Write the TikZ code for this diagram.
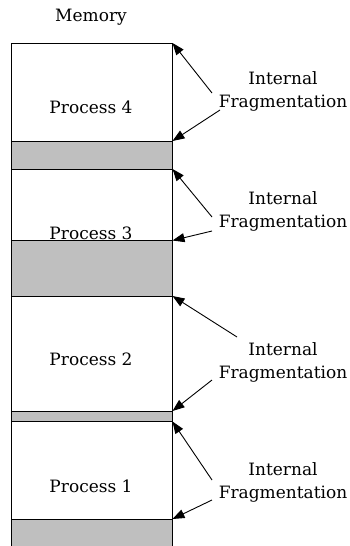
\documentclass[tikz,border=0pt]{standalone}
\usepackage{fontspec}
\setmainfont{DejaVu Serif}
\usetikzlibrary{arrows.meta}
\begin{document}
\begin{tikzpicture}[x=1pt,y=-1pt,
  seg/.style={draw=black,line width=1pt,minimum width=161.5pt,inner sep=0pt,outer sep=0pt,anchor=north west},
  proc/.style={seg,fill=white},
  frag/.style={seg,fill=black!25},
  lbl/.style={font=\fontsize{17}{20}\selectfont,inner sep=0pt,anchor=base},
  note/.style={font=\fontsize{17}{23}\selectfont,align=center,inner sep=0pt},
  pointer/.style={-{Triangle[length=12pt,width=9pt]},line width=0.9pt}]
\useasboundingbox (0,0) rectangle (349,546);
\clip (0,0) rectangle (349,546);
% memory blocks
\node[proc,minimum height=98pt] (p4) at (11,43) {};
\node[frag,minimum height=28pt] (g4) at (11,141) {};
\node[proc,minimum height=71.5pt] (p3) at (11,169) {};
\node[frag,minimum height=55.5pt] (g3) at (11,240.5) {};
\node[proc,minimum height=115pt] (p2) at (11,296) {};
\node[frag,minimum height=10.5pt] (g2) at (11,411) {};
\node[proc,minimum height=97.5pt] (p1) at (11,421.5) {};
\node[frag,minimum height=40pt] (g1) at (11,519) {};
% labels
\node[lbl] (mem) at (91,21.7) {Memory};
\node[lbl] (l4) at (91,113.3) {Process 4};
\node[lbl] (l3) at (91,239.3) {Process 3};
\node[lbl] (l2) at (91,365) {Process 2};
\node[lbl] (l1) at (91,492.7) {Process 1};
\node[note] (n4) at (283,91) {Internal\\Fragmentation};
\node[note] (n3) at (283,211) {Internal\\Fragmentation};
\node[note] (n2) at (283,362) {Internal\\Fragmentation};
\node[note] (n1) at (283,482.5) {Internal\\Fragmentation};
% arrow tails
\coordinate (t4a) at (212,93);
\coordinate (t4b) at (220,110);
\coordinate (t3a) at (212,217);
\coordinate (t3b) at (212,231);
\coordinate (t2a) at (237,337);
\coordinate (t2b) at (212,380);
\coordinate (t1a) at (212,480);
\coordinate (t1b) at (212,500);
\draw[pointer] (t4a) -- (p4.north east);
\draw[pointer] (t4b) -- (p4.south east);
\draw[pointer] (t3a) -- (p3.north east);
\draw[pointer] (t3b) -- (p3.south east);
\draw[pointer] (t2a) -- (p2.north east);
\draw[pointer] (t2b) -- (p2.south east);
\draw[pointer] (t1a) -- (p1.north east);
\draw[pointer] (t1b) -- (p1.south east);
\end{tikzpicture}
\end{document}
